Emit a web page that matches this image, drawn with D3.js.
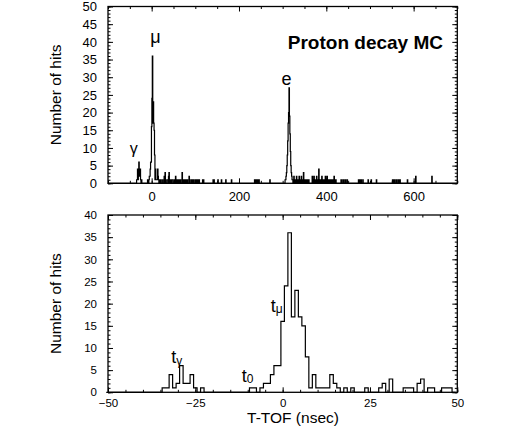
<!DOCTYPE html>
<meta charset="utf-8">
<style>
body{ margin:0; background:#fff; }
text{ font-family:"Liberation Sans", Arial, Helvetica, sans-serif; fill:#000; }
tspan{ fill:#000; }
.frame{ fill:none; stroke:#000; stroke-width:1.3px; }
.hist{ fill:none; stroke:#000; stroke-width:1.2px; stroke-linejoin:miter; }
.tick line{ stroke:#000; stroke-width:1px; }
</style>
<body>
<script src="https://cdn.jsdelivr.net/npm/d3@7"></script>
<script>
// T-TOF histogram, 1 ns bins (bin centres in ns) - the lower panel window
var nearBins   = [-34,-33,-32,-31,-30,-29,-28,-27,-26,-25,-23,
                  -9,-8,-6,-5,-4,-3,-2,-1,0,1,2,3,4,5,6,7,8,9,10,11,12,13,14,15,16,18,20,
                  24,28,29,31,35,36,37,39,40,42,43,46,47,48];
var nearCounts = [1,1,4,1,2,6,2,2,4,1,1,
                  1,1,1,2,2,4,6,6,16,24,36,17,23,17,15,8,1,4,1,1,1,1,4,2,1,1,1,
                  1,1,2,3,1,1,1,2,3,1,1,1,1,1];

// hits outside -50..50 ns, only shown in the upper panel
var farBins   = [52,53,55,57,60,62,64,66,70,72,74,76,79,82,86,90,92,95,97,101,103,105,107,109,117,119,
                 141,143,152,160,170,183,236,238,240,242,244,246,271,
                 306,307,308,309,310,311,312,313,314,315,316,317,318,319,320,321,322,323,
                 326,328,330,332,334,336,338,340,343,345,348,350,352,355,358,360,368,370,372,374,376,378,380,
                 383,386,388,390,392,395,398,400,402,405,408,410,412,415,418,420,422,
                 434,436,440,444,448,474,476,478,480,484,496,503,515,552,554,556,560,562,566,569,586,605,642];
var farCounts = [1,1,2,1,1,1,1,1,3,1,1,1,1,1,2,1,1,1,1,1,1,1,1,1,1,1,
                 1,1,1,1,1,1,1,1,1,1,1,1,1,
                 1,1,2,3,5,8,12,17,20,27,19,14,9,5,3,2,1,1,
                 2,1,1,2,1,1,2,1,2,1,3,1,1,1,1,1,2,1,2,1,1,2,1,
                 4,1,1,2,1,1,2,1,2,1,1,1,1,1,2,1,1,
                 1,1,1,1,1,1,1,1,1,1,1,1,1,1,1,1,1,1,1,1,1,2,2];

var topXTicks = [0,200,400,600];
var botXTicks = [-50,-25,0,25,50];

var svg = d3.select("body").append("svg").attr("width",529).attr("height",437);

// fill a 1 ns grid and turn it into step points
function stepPoints(lo, hi, lists){
    var counts = {};
    lists.forEach(function(l){
        l[0].forEach(function(b,i){ counts[b] = (counts[b]||0) + l[1][i]; });
    });
    var pts = [[lo-0.5,0]];
    for(var b=lo;b<=hi;b++) pts.push([b-0.5, counts[b]||0]);
    pts.push([hi+0.5,0]);
    return pts;
}

function panel(x, y, xMajor, xMinorStep, yMax, tickFont, xPad){
    var g = svg.append("g");
    var xd = x.domain();
    var xMinor = d3.range(xd[0], xd[1]+0.001, xMinorStep);
    var yMinor = d3.range(0, yMax+0.001, 1);
    var yMajor = d3.range(0, yMax+0.001, 5);

    function ax(gen, pos, ticks, size, labels){
        var a = g.append("g").attr("transform", pos)
            .call(gen.tickValues(ticks).tickSize(-size).tickSizeOuter(0).tickPadding(xPad)
                     .tickFormat(labels ? d3.format("d") : ""));
        a.select(".domain").remove();
        a.selectAll("text").style("font-size", tickFont+"px").style("font-family", null);
        return a;
    }
    var r = x.range(), ry = y.range();
    ax(d3.axisBottom(x), "translate(0,"+ry[0]+")", xMinor, 2.5, false);
    ax(d3.axisBottom(x), "translate(0,"+ry[0]+")", xMajor, 5, true);
    ax(d3.axisTop(x), "translate(0,"+ry[1]+")", xMinor, 2.5, false);
    ax(d3.axisTop(x), "translate(0,"+ry[1]+")", xMajor, 5, false);
    ax(d3.axisLeft(y), "translate("+r[0]+",0)", yMinor, 2.5, false);
    ax(d3.axisLeft(y), "translate("+r[0]+",0)", yMajor, 5, true).selectAll("text").attr("x",-11);
    ax(d3.axisRight(y), "translate("+r[1]+",0)", yMinor, 2.5, false);
    ax(d3.axisRight(y), "translate("+r[1]+",0)", yMajor, 5, false);

    g.append("rect").attr("class","frame")
        .attr("x", r[0]).attr("y", ry[1])
        .attr("width", r[1]-r[0]).attr("height", ry[0]-ry[1]);

    g.append("text").attr("transform","rotate(-90)")
        .attr("x", -(ry[0]+ry[1])/2).attr("y", 60.5)
        .style("text-anchor","middle").style("font-size","15.5px")
        .text("Number of hits");
    return g;
}

// ---- upper panel: -100..700 ns
var x1 = d3.scaleLinear().domain([-100,700]).range([108,457.3]);
var y1 = d3.scaleLinear().domain([0,50]).range([183.3,6.5]);
var g1 = panel(x1, y1, topXTicks, 50, 50, 13, 8);

var line1 = d3.line().x(d=>x1(d[0])).y(d=>y1(d[1])).curve(d3.curveStepAfter);
g1.append("path").attr("class","hist")
    .attr("d", line1(stepPoints(-100, 699, [[nearBins,nearCounts],[farBins,farCounts]])));

g1.append("text").attr("x",443).attr("y",48.5).style("text-anchor","end")
    .style("font-size","19px").style("font-weight","bold").text("Proton decay MC");
g1.append("text").attr("x",x1(-41)).attr("y",y1(8.2)).style("text-anchor","middle")
    .style("font-size","16px").text("γ");
g1.append("text").attr("x",x1(8.5)).attr("y",y1(39.7)).style("text-anchor","middle")
    .style("font-size","18px").text("μ");
g1.append("text").attr("x",x1(309)).attr("y",y1(27.8)).style("text-anchor","middle")
    .style("font-size","18px").text("e");

// ---- lower panel: -50..50 ns
var x2 = d3.scaleLinear().domain([-50,50]).range([108,457.3]);
var y2 = d3.scaleLinear().domain([0,40]).range([392.3,215]);
var g2 = panel(x2, y2, botXTicks, 5, 40, 11.5, 7);

var line2 = d3.line().x(d=>x2(d[0])).y(d=>y2(d[1])).curve(d3.curveStepAfter);
g2.append("path").attr("class","hist")
    .attr("d", line2(stepPoints(-50, 49, [[nearBins,nearCounts]])));

function tLabel(xv, yv, sub){
    var t = g2.append("text").attr("x",x2(xv)).attr("y",y2(yv)).style("font-size","18px");
    t.append("tspan").text("t");
    t.append("tspan").attr("dy",1.5).style("font-size","12px").text(sub);
}
tLabel(-31.9, 6.5, "γ");
tLabel(-11.7, 2.4, "0");
tLabel(-3.4, 18.2, "μ");

g2.append("text").attr("x",293).attr("y",422.5).style("text-anchor","middle")
    .style("font-size","15.5px").text("T-TOF (nsec)");
</script>
</body>
